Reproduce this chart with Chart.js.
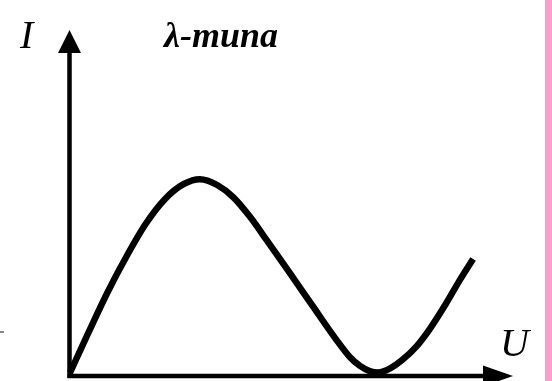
<!DOCTYPE html>
<html>
<head>
<meta charset="utf-8">
<script src="https://cdn.jsdelivr.net/npm/chart.js@4/dist/chart.umd.min.js"></script>
<style>
  html, body { margin: 0; padding: 0; background: #ffffff; }
  #wrap { width: 552px; height: 381px; position: relative; }
</style>
</head>
<body>
<div id="wrap"><canvas id="c" width="552" height="381"></canvas></div>
<script>
// Voltage (U) and current (I) samples of the λ-type characteristic
const uValues = [0.01, 0.44, 0.87, 1.30, 1.72, 2.15, 2.58, 2.94, 3.33, 3.69, 4.07, 4.45, 4.97, 5.49, 6.01, 6.32, 6.55, 6.77, 6.96, 7.23, 7.50, 7.84, 8.13, 8.47, 8.80, 9.10];
const iValues = [0.09, 1.29, 2.45, 3.49, 4.40, 5.11, 5.55, 5.69, 5.52, 5.17, 4.60, 3.92, 2.97, 2.01, 1.06, 0.55, 0.29, 0.14, 0.10, 0.22, 0.46, 0.88, 1.37, 2.05, 2.77, 3.38];

// Axis names and heading
const xAxisName = 'U';
const yAxisName = 'I';
const heading = 'λ-типа';

const curve = uValues.map((u, k) => ({ x: u, y: iValues[k] }));

// Draws the arrowed axes, their names, the heading and the side band
const decor = {
  id: 'decor',
  beforeDatasetsDraw(chart) {
    const ctx = chart.ctx;
    const xs = chart.scales.x, ys = chart.scales.y;
    const ox = xs.getPixelForValue(0);
    const oy = ys.getPixelForValue(0);
    const xEnd = xs.getPixelForValue(xs.max);
    const yEnd = ys.getPixelForValue(ys.max);
    ctx.save();
    // side band
    ctx.fillStyle = 'rgb(250,158,206)';
    ctx.fillRect(545, 0, 7, chart.height);
    // small tick at the left edge
    ctx.strokeStyle = '#8a8a8a';
    ctx.lineWidth = 2;
    ctx.beginPath(); ctx.moveTo(0, 332); ctx.lineTo(4, 332); ctx.stroke();

    ctx.strokeStyle = '#000';
    ctx.fillStyle = '#000';
    ctx.lineWidth = 4.5;
    ctx.lineCap = 'butt';
    // vertical axis
    ctx.beginPath();
    ctx.moveTo(ox, oy + 2);
    ctx.lineTo(ox, yEnd + 20);
    ctx.stroke();
    ctx.beginPath();
    ctx.moveTo(ox, yEnd);
    ctx.lineTo(ox - 11.5, yEnd + 23);
    ctx.lineTo(ox + 11.5, yEnd + 23);
    ctx.closePath();
    ctx.fill();
    // horizontal axis
    ctx.beginPath();
    ctx.moveTo(ox - 2, oy);
    ctx.lineTo(xEnd - 26, oy);
    ctx.stroke();
    ctx.beginPath();
    ctx.moveTo(xEnd, oy);
    ctx.lineTo(xEnd - 30, oy - 10.5);
    ctx.lineTo(xEnd - 30, oy + 10.5);
    ctx.closePath();
    ctx.fill();

    // axis names
    ctx.textBaseline = 'alphabetic';
    ctx.textAlign = 'left';
    ctx.font = 'italic 40px "Liberation Serif", "DejaVu Serif", serif';
    ctx.fillText(yAxisName, 20, 48);
    ctx.fillText(xAxisName, 500, 356);
    // heading
    ctx.font = 'bold italic 36px "Liberation Serif", "DejaVu Serif", serif';
    ctx.fillText(heading, 164, 47);
    ctx.restore();
  }
};

new Chart(document.getElementById('c'), {
  type: 'scatter',
  data: {
    datasets: [{
      data: curve,
      showLine: true,
      borderColor: '#000',
      borderWidth: 6.5,
      borderCapStyle: 'butt',
      cubicInterpolationMode: 'monotone',
      pointRadius: 0,
      pointHoverRadius: 0,
      fill: false,
      clip: false
    }]
  },
  options: {
    responsive: false,
    animation: false,
    events: [],
    layout: { padding: { left: 69.5, right: 39, top: 30, bottom: 5 } },
    plugins: { legend: { display: false }, tooltip: { enabled: false }, title: { display: false } },
    scales: {
      x: { type: 'linear', min: 0, max: 10, display: false },
      y: { type: 'linear', min: 0, max: 10, display: false }
    }
  },
  plugins: [decor]
});
</script>
</body>
</html>
